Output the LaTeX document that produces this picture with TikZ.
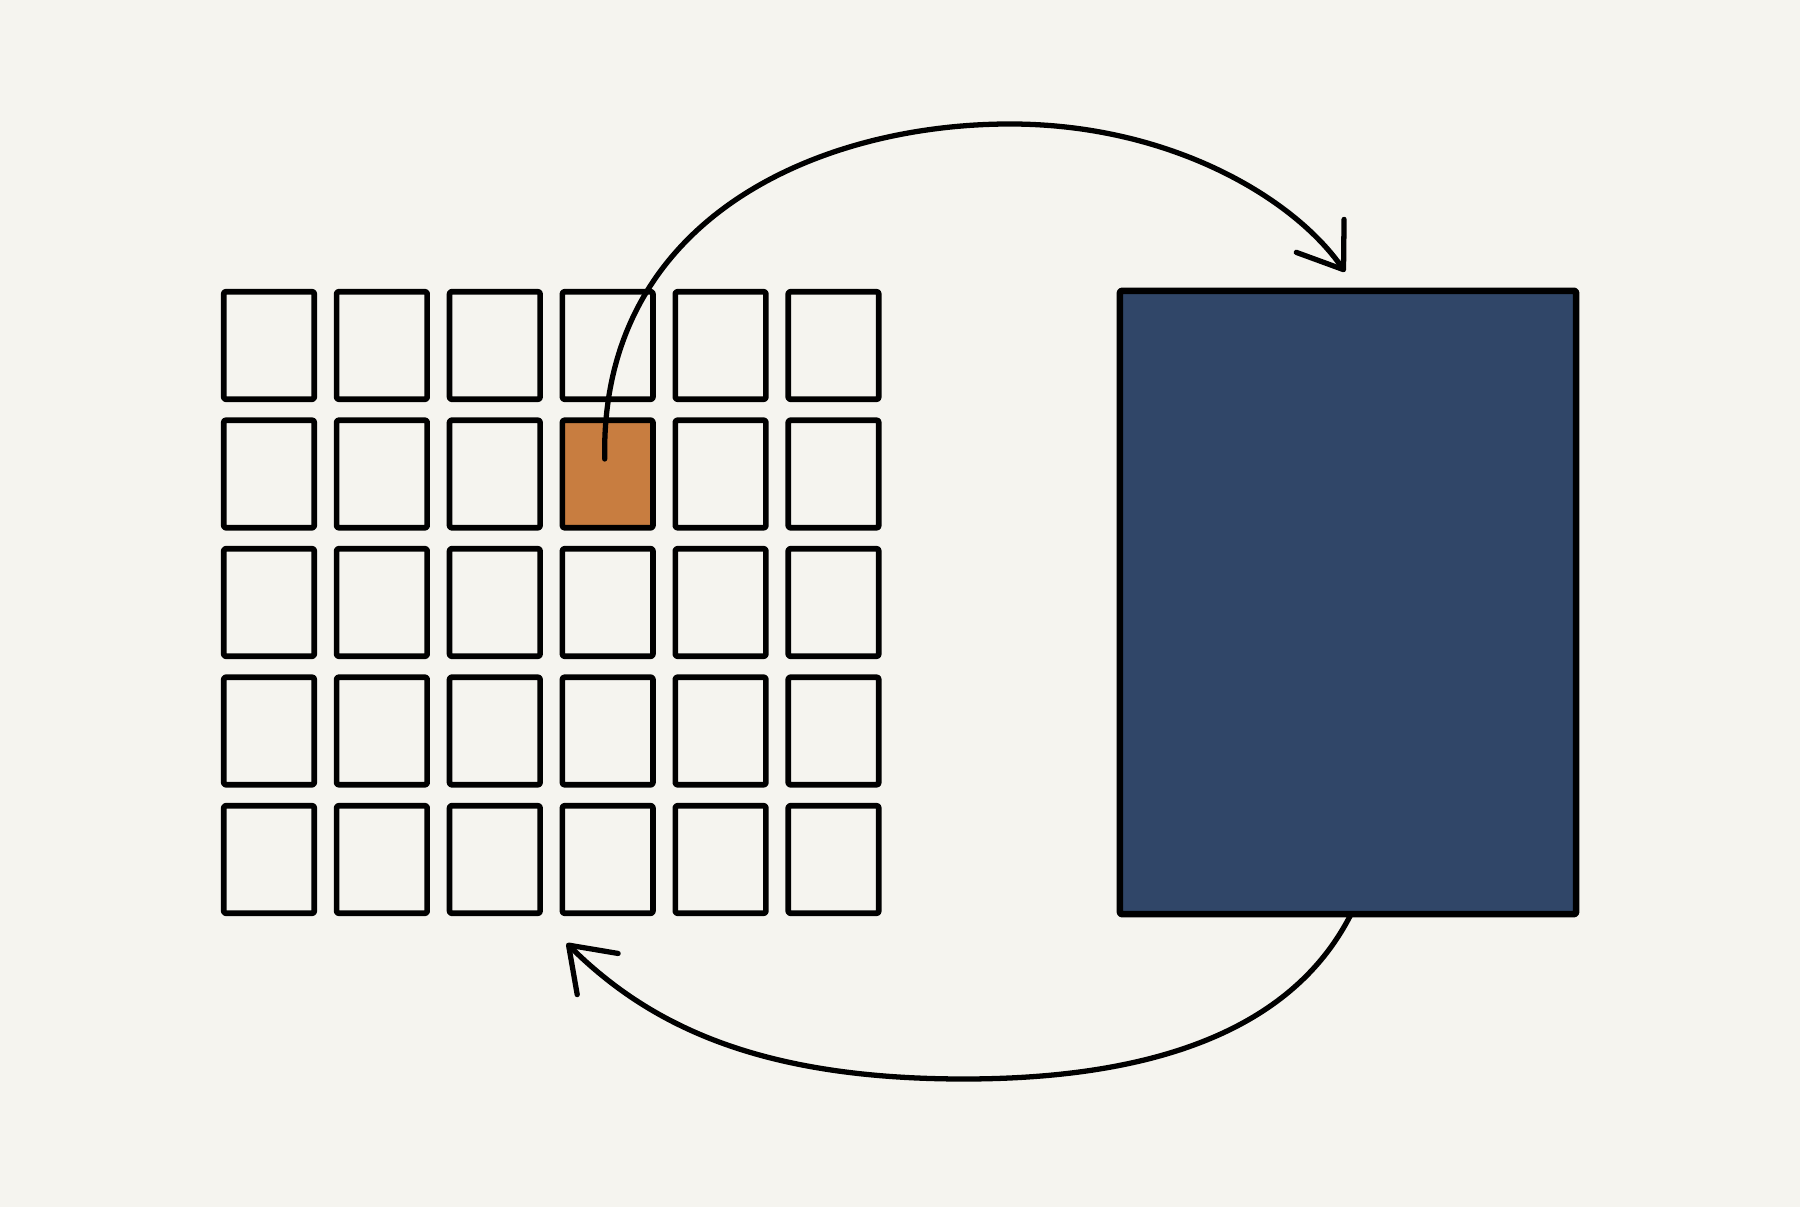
\documentclass[tikz,border=0pt]{standalone}
\usetikzlibrary{arrows.meta}
\definecolor{bgc}{HTML}{F5F4EF}
\definecolor{navy}{HTML}{304668}
\definecolor{ochre}{HTML}{C87D40}
\begin{document}
\begin{tikzpicture}[x=0.01cm,y=-0.01cm, line cap=round, line join=round,
  cell/.style={draw=black, line width=1.6pt, minimum width=0.905cm, minimum height=1.075cm,
    inner sep=0pt, outer sep=0pt, rounded corners=0.6pt},
  block/.style={draw=black, line width=1.85pt, fill=navy, minimum width=4.56cm, minimum height=6.23cm,
    inner sep=0pt, outer sep=0pt, rounded corners=0.6pt},
  curve/.style={draw=black, line width=1.5pt},
  barb/.style={-{Straight Barb[length=0.41cm,width=0.58cm,round]}}]
\fill[bgc] (0,0) rectangle (1800,1207);
\useasboundingbox (0,0) rectangle (1800,1207);
\foreach \i in {0,...,5} \foreach \j in {0,...,4} {
  \ifnum\i=3 \ifnum\j=1 \def\fc{ochre}\else\def\fc{bgc}\fi\else\def\fc{bgc}\fi
  \node[cell, fill=\fc] (c\i\j) at ({269+112.9*\i},{345.5+128.5*\j}) {};
}
\node[block] (blk) at (1348,602.5) {};
\coordinate (s1) at ([shift={(-3,-15)}]c31.center);
\coordinate (e1) at ([shift={(-3,-19)}]blk.north);
\coordinate (s2) at ([shift={(3,0)}]blk.south);
\coordinate (e2) at ([shift={(-41,30)}]c34.south);
\draw[curve, barb]
  (s1) .. controls (600,215) and (823,124) .. (1010,124)
       .. controls (1170,124) and (1294,198) .. (e1);
\draw[curve, barb]
  (s2) .. controls (1314,987) and (1224,1079) .. (964,1079)
       .. controls (764,1079) and (652,1028) .. (e2);
\end{tikzpicture}
\end{document}
